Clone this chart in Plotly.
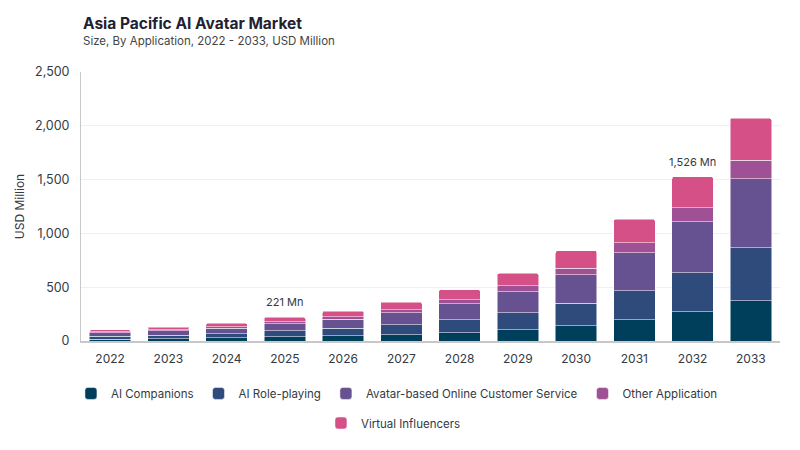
import plotly.graph_objects as go

years = ["2022", "2023", "2024", "2025", "2026", "2027",
         "2028", "2029", "2030", "2031", "2032", "2033"]

ai_companions = [18, 23, 29, 39, 49, 59, 77, 105, 142, 198, 272, 375]
ai_role_playing = [25, 31, 40, 54, 68, 90, 121, 158, 208, 270, 363, 492]
avatar_customer_service = [32, 40, 51, 68, 85, 114, 149, 195, 266, 353, 474, 641]
other_application = [9, 11, 14, 18, 23, 28, 37, 56, 62, 93, 130, 174]
virtual_influencers = [20, 25, 32, 42, 53, 71, 93, 115, 161, 217, 287, 388]

series_names = ["AI Companions", "AI Role-playing",
                "Avatar-based Online Customer Service",
                "Other Application", "Virtual Influencers"]
series_values = [ai_companions, ai_role_playing, avatar_customer_service,
                 other_application, virtual_influencers]
colors = ["#003f5c", "#2f4b7c", "#665191", "#a05195", "#d45087"]
# last entry goes on its own row, like the original
legend_ids = ["legend", "legend", "legend", "legend", "legend2"]

# labelled totals
label_years = ["2025", "2032"]
label_texts = ["221 Mn", "1,526 Mn"]

FONT = "Inter"
TXT = "#333a44"

fig = go.Figure()
for name, vals, col, lg in zip(series_names, series_values, colors, legend_ids):
    fig.add_trace(go.Bar(
        x=years, y=vals, name=name, legend=lg,
        marker=dict(color=col, line=dict(color="#ffffff", width=0.5)),
        hovertemplate="%{x}: %{y} Mn<extra>" + name + "</extra>",
    ))

totals = [sum(v[i] for v in series_values) for i in range(len(years))]
for yr, txt in zip(label_years, label_texts):
    i = years.index(yr)
    # category index, so the annotation sits on the bar
    fig.add_annotation(x=i, y=totals[i], text=txt, showarrow=False,
                       yshift=15, font=dict(family=FONT, size=11, color=TXT))

# title + subtitle as paper annotations (page body adds an 8px offset)
fig.add_annotation(x=0, y=1.179, xref="paper", yref="paper", xanchor="left",
                   yanchor="middle", showarrow=False,
                   text="<b>Asia Pacific AI Avatar Market</b>",
                   font=dict(family=FONT, size=15.5, color="#1f2233"))
fig.add_annotation(x=0, y=1.115, xref="paper", yref="paper", xanchor="left",
                   yanchor="middle", showarrow=False,
                   text="Size, By Application, 2022 - 2033, USD Million",
                   font=dict(family=FONT, size=11.5, color="#444444"))

legend_font = dict(family=FONT, size=11.5, color=TXT)

fig.update_layout(
    width=800, height=450,
    barmode="stack", bargap=0.29, barcornerradius=2,
    paper_bgcolor="white", plot_bgcolor="white",
    font=dict(family=FONT, color=TXT),
    margin=dict(l=73, r=28, t=64, b=117),
    showlegend=True,
    legend=dict(orientation="h", x=0.452, xanchor="center", y=-0.141, yanchor="top",
                font=legend_font, traceorder="normal"),
    legend2=dict(orientation="h", x=0.447, xanchor="center", y=-0.251, yanchor="top",
                 font=legend_font),
    xaxis=dict(type="category", range=[-0.5, len(years) - 0.5], automargin=False,
               tickfont=dict(family=FONT, size=12, color=TXT), ticklabelstandoff=6,
               showline=True, linecolor="#c8c8c8", linewidth=1.5, ticks=""),
    yaxis=dict(range=[0, 2500], dtick=500, tickformat=",", automargin=False,
               tickfont=dict(family=FONT, size=12.5, color=TXT), ticklabelstandoff=8,
               gridcolor="#f0f0f0", showline=True, linecolor="#c8c8c8",
               zeroline=False, ticks="",
               title=dict(text="USD Million", font=dict(family=FONT, size=12, color=TXT),
                          standoff=7)),
)

fig.write_html("out.html")
